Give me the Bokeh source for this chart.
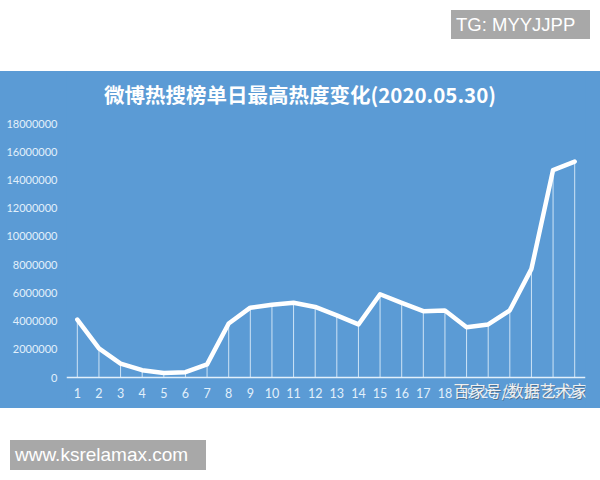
from bokeh.plotting import figure
from bokeh.models import (ColumnDataSource, FactorRange, Range1d, FixedTicker,
                          BasicTickFormatter, Label, Div)
from bokeh.layouts import column
from bokeh.embed import file_html
from bokeh.resources import INLINE

# ---- data ----
hours = [str(i) for i in range(1, 25)]
heat = [4100000, 2060000, 980000, 520000, 320000, 380000, 930000, 3830000,
        4950000, 5150000, 5300000, 5000000, 4400000, 3760000, 5900000, 5290000,
        4700000, 4750000, 3560000, 3760000, 4760000, 7700000, 14700000, 15300000]
y_ticks = [0, 2000000, 4000000, 6000000, 8000000, 10000000, 12000000,
           14000000, 16000000, 18000000]
title_text = "微博热搜榜单日最高热度变化(2020.05.30)"
watermark_text = "百家号/数据艺术家"
tg_text = "TG: MYYJJPP"
site_text = "www.ksrelamax.com"

BLUE = "#5b9bd5"
PALE = "#e2f0fb"

# ---- layout geometry (pixels) ----
W, H = 600, 337
PAD_L, PAD_R = 66, 15
Y_TOP_PX, Y_ZERO_PX = 52, 306           # canvas rows of the top tick and of zero
per_px = (y_ticks[-1] - y_ticks[0]) / (Y_ZERO_PX - Y_TOP_PX)
y_start = y_ticks[0] - (H - Y_ZERO_PX) * per_px
y_end = y_ticks[-1] + Y_TOP_PX * per_px

src = ColumnDataSource(dict(x=hours, y=heat, base=[0] * len(heat)))

p = figure(width=W, height=H, output_backend="svg", toolbar_location=None,
           x_range=FactorRange(*hours, range_padding=0),
           y_range=Range1d(y_start, y_end),
           background_fill_color=BLUE, border_fill_color=BLUE,
           outline_line_color=None,
           min_border_left=PAD_L, min_border_right=PAD_R,
           min_border_top=0, min_border_bottom=0,
           styles={"background-color": BLUE})
p.title = None
p.xgrid.visible = False
p.ygrid.visible = False

p.segment(x0="x", y0="base", x1="x", y1="y", source=src,
          line_color=PALE, line_alpha=0.85, line_width=1)
p.line(x="x", y="y", source=src, line_color="white", line_width=4.5,
       line_join="round", line_cap="round")

xa = p.xaxis[0]
xa.fixed_location = 0
xa.axis_line_color = PALE
xa.axis_line_width = 1.5
xa.major_tick_line_color = None
xa.minor_tick_line_color = None
xa.major_tick_out = 0
xa.major_label_standoff = 10
xa.major_label_text_color = PALE
xa.major_label_text_font = "Lato"
xa.major_label_text_font_size = "12.5px"

ya = p.yaxis[0]
ya.ticker = FixedTicker(ticks=y_ticks)
ya.formatter = BasicTickFormatter(use_scientific=False)
ya.axis_line_color = None
ya.major_tick_line_color = None
ya.minor_tick_line_color = None
ya.major_tick_out = 0
ya.major_label_standoff = 9
ya.major_label_text_color = PALE
ya.major_label_text_font = "Lato"
ya.major_label_text_font_size = "11px"

title = Label(x=299.5 - PAD_L, y=H - 22, x_units="screen", y_units="screen",
              text=title_text, text_color="white", text_font="Noto Sans CJK SC",
              text_font_style="bold", text_font_size="20.5px",
              text_align="center", text_baseline="middle")
p.add_layout(title)

wm_shadow = Label(x=454 - PAD_L, y=H - 319, x_units="screen", y_units="screen",
                  text=watermark_text, text_color="#444444", text_alpha=0.45,
                  text_font="Noto Sans CJK SC", text_font_size="16px",
                  text_baseline="middle")
wm = Label(x=453 - PAD_L, y=H - 318, x_units="screen", y_units="screen",
           text=watermark_text, text_color="#f0f0f0",
           text_font="Noto Sans CJK SC", text_font_size="16px",
           text_baseline="middle")
p.add_layout(wm_shadow)
p.add_layout(wm)

box_css = ("background:#a8a8a8;color:white;font-family:'Liberation Sans',Arial,sans-serif;"
           "box-sizing:border-box;white-space:nowrap;")
top = Div(width=600, height=71,
          text=f'<div style="{box_css}margin-left:451px;margin-top:10px;width:139px;'
               f'height:29px;line-height:29px;padding-left:5px;font-size:18.5px;">{tg_text}</div>',
          styles={"margin": "0", "padding": "0"})
bottom = Div(width=600, height=72,
             text=f'<div style="{box_css}margin-left:10px;margin-top:32px;width:196px;'
                  f'height:30px;line-height:30px;padding-left:5px;font-size:19px;">{site_text}</div>',
             styles={"margin": "0", "padding": "0"})

layout = column(top, p, bottom, spacing=0)
open("out.html", "w").write(file_html(layout, INLINE))
